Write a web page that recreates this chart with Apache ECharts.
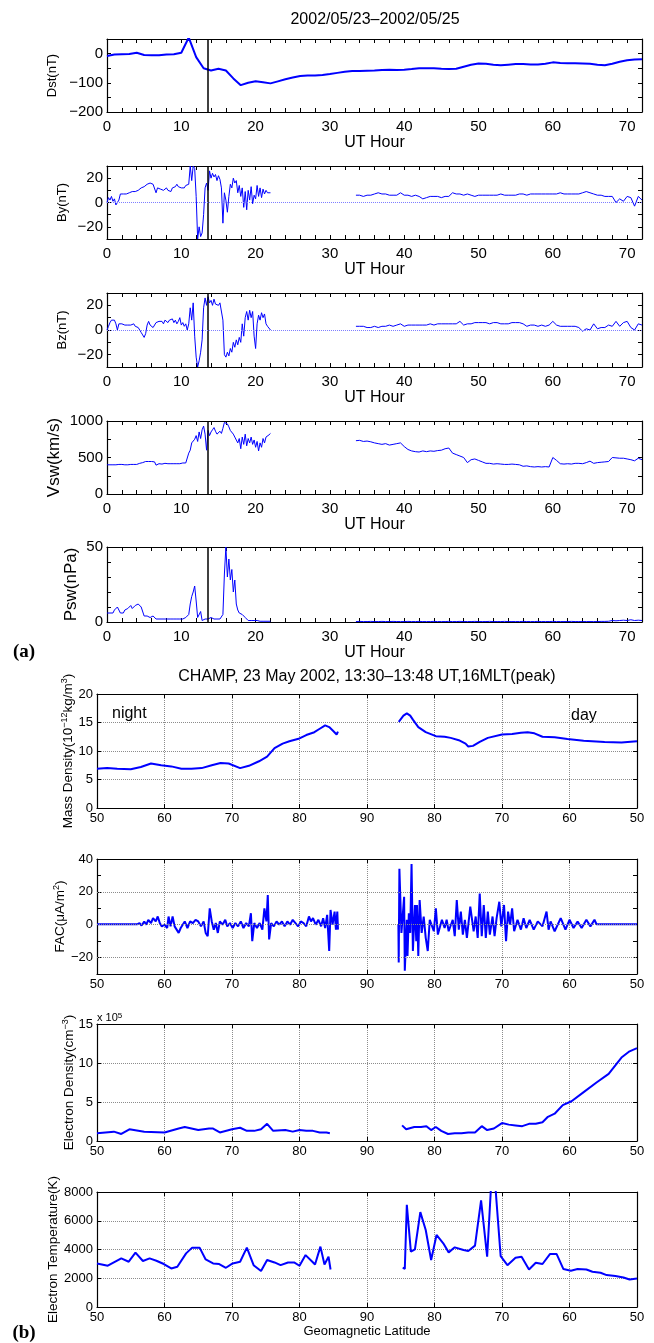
<!DOCTYPE html>
<html>
<head>
<meta charset="utf-8">
<script src="https://cdn.jsdelivr.net/npm/echarts@6/dist/echarts.min.js"></script>
<style>
  html, body { margin: 0; padding: 0; background: #fff; }
  #chart { width: 654px; height: 1343px; }
</style>
</head>
<body>
<div id="chart"></div>
<script>
// ---------- dados (a): vento solar / Dst ----------
const eventHour = 13.6;                 // linha vertical preta
const dstValues = [-8,-3,-2,-1,3,-5,-6,-6,-3,-2,3,55,-12,-50,-58,-52,-58,-85,-108,-100,-95,-98,-102,-95,-88,-82,-77,-75,-75,-73,-70,-66,-62,-60,-60,-59,-58,-56,-55,-56,-55,-53,-50,-50,-50,-52,-53,-52,-45,-38,-34,-35,-38,-40,-38,-36,-36,-37,-37,-35,-30,-32,-33,-33,-34,-35,-38,-40,-35,-28,-23,-20,-19];

// trecho 1: 0-22 h a cada 0.2 h ; trecho 2: 33.5-72 h a cada 0.5 h
const seg1Start = 0, seg1Step = 0.2;
const seg2Start = 33.5, seg2Step = 0.5;

const by1 = [0,4,2,5,1,3,-2,-3,2,7, 6,7,7,7,8,8,8,9,8,9, 9,10,10,12,13,13,14,15,15,16, 16,15,15,8,12,13,11,12,10,11,
  12,10,11,9,12,11,13,15,13,12, 12,13,12,14,13,15,30,18,30,28, 5,-30,-20,-28,-25,-10,12,16,10,26, 20,24,21,23,18,22,19,12,-17,8,
  2,-8,5,15,12,20,16,18,8,14, 5,12,-4,9,-6,10,2,13,-1,6, 3,14,5,12,4,11,7,10,8,9, 8];
const by2 = [6,6,5,6,6,7,8,7,7,6, 6,6,8,6,6,5,6,5,3,4, 5,5,5,4,5,5,8,7,7,6, 7,6,5,6,6,6,6,6,6,7,
  6,6,6,6,7,7,6,7,7,7, 7,7,7,7,7,8,7,7,7,7, 7,8,9,8,7,6,6,5,5,5, 0,3,1,5,4,-3,5,2];

const bz1 = [0,3,6,8,7,8,5,0,5,6, 5,4,4,3,4,3,4,4,5,3, 4,2,0,-2,-4,-6,-3,4,7,4, 3,2,3,6,5,7,6,7,5,8,
  7,6,8,7,9,6,8,5,7,10, 4,6,3,5,0,5,18,8,22,-5, -22,-30,-25,-18,-8,18,26,20,27,22, 24,20,25,21,22,20,22,21,8,-20,
  -22,-18,-21,-15,-18,-10,-14,-8,-12,-6, -10,5,-5,10,15,8,16,10,15,-5, -15,5,12,8,14,10,13,5,3,2, 0];
const bz2 = [3,3,3,2,2,3,2,3,3,4, 3,4,5,3,4,4,4,4,4,4, 5,4,5,5,5,5,5,5,7,4, 5,5,6,6,6,6,5,6,6,5,
  5,5,6,6,6,5,3,4,4,3, 4,3,4,7,4,3,3,3,3,3, 2,-1,1,0,5,1,2,2,4,3, 7,3,6,7,2,0,5,4];

const vsw1 = [400,405,400,402,400,405,400,410,405,400, 405,405,400,405,400,400,405,400,405,410,
  405,415,420,420,430,440,445,450,445,450, 445,450,440,395,420,415,420,410,415,420,
  410,415,420,415,410,415,420,415,420,415, 420,425,420,425,420,560,600,700,680,750,
  800,720,850,760,880,930,820,600,870,800, 850,880,910,860,820,840,860,830,900,980,
  1000,960,920,870,850,820,780,800,700,760, 620,780,680,820,660,760,700,780,680,740,
  640,720,590,700,640,760,700,780,790,810, 830];
const vsw2 = [730,735,720,725,715,700,690,680,690,670, 680,690,700,650,610,590,580,575,590,580,
  590,585,595,600,620,630,560,540,520,500, 430,470,480,460,440,420,420,410,415,410,
  405,405,410,405,400,380,385,375,370,375, 370,375,370,500,460,415,410,415,410,420,
  420,415,430,450,420,430,435,440,445,500, 495,490,490,480,470,455,490,470];

const psw1 = [6,7,6,7,6,8,7,10,8,6, 7,6,8,7,9,10,11,9,10,11, 12,12,11,10,11,4,3,4,3,3, 3,4,3,2,3,2,2,2,2,2,
  2,2,2,2,2,2,2,2,2,2, 2,2,3,3,4,5,12,17,20,24, 14,3,2,7,1,1,2,1,2,2, 3,2,2,2,2,2,2,3,5,32,
  50,30,42,28,35,20,28,12,8,6, 7,5,6,3,4,1,2,1,1,1, 0.5,1,0.5,0.5,0.5,0.5,0.5,0.5,0.5,0.5, 0.5];
const psw2 = [0.3,0.4,0.3,0.3,0.4,0.3,0.3,0.4,0.3,0.3, 0.4,0.3,0.3,0.3,0.4,0.3,0.3,0.4,0.3,0.3,
  0.3,0.4,0.3,0.3,0.3,0.4,0.3,0.3,0.4,0.3, 0.3,0.3,0.4,0.3,0.3,0.3,0.4,0.3,0.3,0.3,
  0.4,0.3,0.3,0.3,0.3,0.4,0.3,0.3,0.3,0.4, 0.3,0.3,0.3,0.4,0.3,0.3,0.3,0.3,0.4,0.3,
  0.3,0.3,0.3,0.3,0.3,0.3,0.4,0.4,0.5,1, 0.8,1,1.2,1,1.5,1,1.2,1];

// ---------- dados (b): CHAMP, [latitude, valor] ----------
const latTickLabels = ['50','60','70','80','90','80','70','60','50'];

const massNight = [[50,6.9],[51.5,7.0],[53,6.9],[55,6.8],[56.5,7.2],[58,7.8],[59.5,7.5],[61,7.3],[62.5,6.9],[64,6.9],
  [65.5,7.0],[67,7.5],[68.3,7.9],[69.5,7.8],[71.2,7.0],[72.5,7.4],[74,8.2],[75.2,9.0],[76.3,10.5],[77.5,11.3],
  [78.5,11.7],[80,12.2],[81,12.8],[82.2,13.3],[83,13.9],[83.8,14.5],[84.4,14.2],[85,13.5],[85.5,12.9],[85.7,13.4]];
const massDay = [[85.3,15.1],[84.6,16.2],[84.1,16.6],[83.6,16.2],[83.2,15.5],[82.4,14.2],[81.3,13.3],[79.8,12.6],
  [78.5,12.5],[77.6,12.3],[76.4,11.9],[75.4,11.3],[75,10.8],[74.3,10.9],[73.3,11.6],[72.1,12.3],[70,12.9],
  [68.5,13.0],[67.2,13.2],[66.2,13.3],[65.2,13.1],[64,12.5],[62.2,12.4],[60.3,12.1],[57.9,11.8],[54.8,11.6],
  [52.3,11.5],[50,11.7]];

const facNight = [[50,0.3],[56,0.3],[56.3,1],[56.6,-0.5],[57,2],[57.3,0],[57.6,3],[58,1],[58.3,4],[58.7,2],[59,5],
  [59.3,1],[59.6,-1],[60,0],[60.4,-2],[60.6,5],[60.9,-1],[61.2,5],[61.5,-1],[61.8,-3],[62.1,-5],[62.4,-2],[62.7,0],
  [63,2],[63.4,-2],[63.8,2],[64.2,1],[64.6,3],[65,2],[65.4,-1],[65.8,2],[66.1,-5],[66.4,-7],[66.7,10],[67,2],
  [67.3,-3],[67.6,1],[67.9,-5],[68.2,2],[68.6,0],[69,3],[69.3,-1],[69.7,1],[70.1,-2],[70.5,1],[70.9,-1],[71.3,2],
  [71.7,-2],[72.1,1],[72.5,-1],[72.8,7],[73.0,-10],[73.3,1],[73.7,-2],[74.1,1],[74.5,-3],[74.8,10],[75.1,2],
  [75.3,18],[75.5,-9],[75.8,1],[76.2,-1],[76.6,2],[77,0],[77.4,2],[77.8,-1],[78.2,2],[78.6,0],[79,3],[79.4,1],
  [79.8,-1],[80.2,2],[80.6,1],[81,-1],[81.4,5],[81.7,2],[82,4],[82.4,0],[82.8,3],[83.2,-1],[83.5,4],[83.8,-2],
  [84.1,6],[84.4,-16],[84.6,9],[84.9,0],[85.2,8],[85.4,-3],[85.6,8],[85.7,-3]];
const facDay = [[85.35,0],[85.3,-23],[85.2,34],[84.9,-5],[84.5,17],[84.4,-28],[84.1,3],[84.0,-19],[83.8,7],[83.6,-5],
  [83.4,37],[83.2,-16],[82.9,12],[82.7,-10],[82.6,12],[82.4,-19],[82.2,15],[81.9,-5],[81.6,5],[81.3,-8],[81.0,-16],
  [80.7,3],[80.1,-4],[79.8,10],[79.5,-6],[78.9,3],[78.5,-2],[78.2,3],[77.9,-4],[77.3,3],[77.0,-7],[76.7,15],
  [76.4,-3],[76.1,8],[75.8,-6],[75.5,3],[75.2,-8],[74.7,11],[74.2,-4],[73.9,5],[73.6,-8],[73.3,19],[73.0,-7],
  [72.7,12],[72.4,-8],[72.1,8],[71.8,-6],[71.4,5],[71.1,-7],[70.8,4],[70.4,14],[70.1,-1],[69.7,12],[69.4,-10],
  [69.1,8],[68.8,0],[68.5,10],[68.2,-4],[67.7,3],[67.2,-3],[66.8,4],[66.4,-2],[65.9,3],[65.3,-3],[64.7,2],
  [64.0,-1],[63.4,8],[63.1,-3],[62.8,2],[62.2,-4],[61.3,4],[60.6,-3],[60.0,3],[59.4,-2],[58.8,2],[58.2,-2],
  [57.5,3],[56.9,-1],[56.3,3],[56.0,0.3],[50,0.3]];
const facGridValues = [-20, 0, 20];

// densidade eletrônica em unidades de 10^5 cm^-3
const neNight = [[50,1.0],[52.5,1.2],[53.6,0.9],[54.8,1.5],[57,1.2],[60,1.1],[62.1,1.6],[63,1.8],[65,1.4],[66.6,1.6],
  [67.2,1.6],[68.2,1.1],[70,1.5],[71.2,1.7],[72.2,1.3],[73.3,1.3],[74.3,1.5],[75.2,2.2],[76.1,1.3],[77.9,1.4],
  [79,1.2],[80,1.4],[81,1.3],[82,1.3],[83,1.1],[84,1.1],[84.5,1.0]];
const neDay = [[84.8,2.0],[84.2,1.5],[83.0,1.8],[82.0,1.8],[81.2,1.9],[80.5,1.4],[79.8,1.8],[79.0,1.3],[78.0,0.9],
  [77.0,1.0],[76.0,1.0],[75.0,1.1],[74.0,1.1],[73.0,1.9],[72.2,1.4],[71.2,1.6],[70.0,2.3],[69.0,2.1],[68.0,2.0],
  [67.0,1.9],[66.0,2.2],[65.0,2.2],[64.0,2.4],[63.2,3.1],[62.2,3.5],[61.0,4.6],[59.7,5.1],[58.0,6.2],[56.0,7.5],
  [54.2,8.6],[52.3,10.7],[51.1,11.5],[50.0,11.9]];

const teNight = [[50,3030],[51.6,2870],[53.6,3380],[54.7,3150],[55.7,3780],[56.8,3200],[57.8,3380],[58.8,3220],
  [59.9,2990],[61,2680],[61.9,2800],[63.2,3730],[64.1,4130],[65.2,4130],[66.1,3310],[67.2,3030],[68.1,2990],
  [69.1,2730],[70.1,3030],[71.2,3150],[72.2,4130],[73.2,2910],[74.3,2500],[75.2,3270],[76.3,3100],[77.2,2910],
  [78.3,3100],[79.2,3100],[80,2870],[80.9,3610],[81.9,3150],[82.3,2960],[83.1,4200],[83.7,2960],[84.3,3500],[84.6,2610]];
const teDay = [[84.7,2750],[84.4,2640],[84.1,7110],[83.5,3850],[82.9,4010],[82.1,6600],[81.3,5360],[80.5,3270],
  [79.7,5010],[78.7,4430],[77.9,3800],[77,4150],[75.7,3960],[75,3890],[74,4270],[73.1,7420],[72.2,3500],[71.6,8600],
  [71,8500],[70.2,3540],[69.2,2910],[68,3430],[67.1,3500],[66,2610],[65,3080],[64,2990],[62.9,3680],[61.9,3680],
  [60.9,2640],[59.8,2520],[58.8,2640],[57.5,2610],[56.6,2450],[55.4,2380],[54.5,2220],[53.2,2150],[52,2050],
  [51.1,1910],[50,1980]];

// ---------- montagem ----------
const FONT = '"Liberation Sans", Arial, Helvetica, sans-serif';
const BLUE = '#0000ff';

function toPairs(start, step, values) {
    return values.map((v, i) => [+(start + i * step).toFixed(2), v]);
}
// lado diurno: latitude -> posição ao longo da passagem (90 no meio)
function dayTrack(points) {
    return points.map(p => [180 - p[0], p[1]]);
}
function num(v) {
    return v < 0 ? '\u2212' + Math.abs(v) : String(v);
}

const grids = [], xAxes = [], yAxes = [], series = [];

function addPanel(p) {
    const gi = grids.length;
    grids.push({ left: p.left, top: p.top, width: p.width, height: p.height, containLabel: false, outerBoundsMode: 'none' });
    const boxLine = { show: true, onZero: false, lineStyle: { color: '#000', width: 1.2 } };
    const tick = { show: true, inside: true, length: 4, lineStyle: { color: '#000', width: 1 } };
    const grid = p.grid ? { show: true, lineStyle: { color: '#8c8c8c', type: 'dotted', width: 1 } } : { show: false };

    xAxes.push({
        type: 'value', gridIndex: gi, position: 'bottom',
        min: p.x.min, max: p.x.max, interval: p.x.interval,
        axisLine: boxLine, axisTick: tick, splitLine: grid,
        axisLabel: { color: '#000', fontFamily: FONT, fontSize: p.tickSize, margin: p.xMargin, formatter: p.x.fmt },
        name: p.xName || '', nameLocation: 'middle', nameGap: p.xNameGap, nameMoveOverlap: false,
        nameTextStyle: { color: '#000', fontFamily: FONT, fontSize: p.xNameSize }
    });
    xAxes.push({
        type: 'value', gridIndex: gi, position: 'top',
        min: p.x.min, max: p.x.max, interval: p.x.interval,
        axisLine: boxLine, axisTick: tick, splitLine: { show: false }, axisLabel: { show: false }
    });
    yAxes.push({
        type: 'value', gridIndex: gi, position: 'left',
        min: p.y.min, max: p.y.max, interval: p.y.interval,
        axisLine: boxLine, axisTick: tick, splitLine: p.y.noGrid ? { show: false } : grid,
        axisLabel: { color: '#000', fontFamily: FONT, fontSize: p.tickSize, margin: 4,
            formatter: v => (Math.round(v) % p.y.labelEvery === 0 ? num(v) : '') },
        name: p.yName, nameLocation: 'middle', nameGap: p.yNameGap, nameMoveOverlap: false,
        nameTextStyle: { color: '#000', fontFamily: FONT, fontSize: p.yNameSize, rich: p.rich }
    });
    yAxes.push({
        type: 'value', gridIndex: gi, position: 'right',
        min: p.y.min, max: p.y.max, interval: p.y.interval,
        axisLine: boxLine, axisTick: tick, splitLine: { show: false }, axisLabel: { show: false }
    });
    return gi;
}

function line(gi, data, width, extra) {
    return Object.assign({
        type: 'line', xAxisIndex: gi * 2, yAxisIndex: gi * 2, data: data,
        showSymbol: false, symbol: 'none', clip: true, animation: false, silent: true,
        lineStyle: { color: BLUE, width: width }
    }, extra || {});
}

function refLines(zero) {
    const d = [{ xAxis: eventHour, lineStyle: { color: '#000', width: 1.5, type: 'solid' } }];
    if (zero) d.push({ yAxis: 0, lineStyle: { color: '#7f7fff', width: 1, type: 'dotted' } });
    return { markLine: { symbol: ['none', 'none'], silent: true, animation: false, label: { show: false }, data: d } };
}

// eixo x (a)
const hourAxis = { min: 0, max: 72, interval: 2, fmt: v => (v % 10 === 0 ? String(v) : '') };
const A = { left: 107, width: 535, tickSize: 15, xMargin: 7, xName: 'UT Hour', xNameGap: 23, xNameSize: 16, grid: false };

const panelsA = [
    { top: 39,  height: 73, name: 'Dst(nT)',   nameSize: 13, gap: 48, y: { min: -200, max: 50, interval: 50, labelEvery: 100 } },
    { top: 166, height: 73, name: 'By(nT)',    nameSize: 13, gap: 38, y: { min: -30, max: 30, interval: 10, labelEvery: 20 } },
    { top: 293, height: 74, name: 'Bz(nT)',    nameSize: 13, gap: 38, y: { min: -30, max: 30, interval: 10, labelEvery: 20 } },
    { top: 421, height: 73, name: 'Vsw(km/s)', nameSize: 17, gap: 44, y: { min: 0, max: 1000, interval: 250, labelEvery: 500 } },
    { top: 547, height: 75, name: 'Psw(nPa)',  nameSize: 17, gap: 27, y: { min: 0, max: 50, interval: 10, labelEvery: 50 } }
];
const gA = panelsA.map(p => addPanel(Object.assign({}, A, {
    top: p.top, height: p.height, x: hourAxis, y: p.y, yName: p.name, yNameSize: p.nameSize, yNameGap: p.gap
})));

series.push(line(gA[0], dstValues.map((v, i) => [i, v]), 2, refLines(false)));
series.push(line(gA[1], toPairs(seg1Start, seg1Step, by1), 1, refLines(true)));
series.push(line(gA[1], toPairs(seg2Start, seg2Step, by2), 1));
series.push(line(gA[2], toPairs(seg1Start, seg1Step, bz1), 1, refLines(true)));
series.push(line(gA[2], toPairs(seg2Start, seg2Step, bz2), 1));
series.push(line(gA[3], toPairs(seg1Start, seg1Step, vsw1), 1, refLines(false)));
series.push(line(gA[3], toPairs(seg2Start, seg2Step, vsw2), 1));
series.push(line(gA[4], toPairs(seg1Start, seg1Step, psw1), 1, refLines(false)));
series.push(line(gA[4], toPairs(seg2Start, seg2Step, psw2), 1));

// eixo x (b)
const latAxis = { min: 50, max: 130, interval: 10, fmt: v => latTickLabels[Math.round((v - 50) / 10)] };
const B = { left: 97, width: 540, tickSize: 13, xMargin: 4, xNameGap: 18, xNameSize: 13, grid: true, yNameSize: 13.5 };
const sup = {
    a: { fontFamily: FONT, fontSize: 13.5, color: '#000', lineHeight: 16 },
    b: { fontFamily: FONT, fontSize: 9, color: '#000', lineHeight: 16, verticalAlign: 'top', padding: [0, 0, 6, 0] }
};

const panelsB = [
    { top: 694,  height: 114, name: '{a|Mass Density(10}{b|\u221212}{a|kg/m}{b|3}{a|)}', gap: 21, y: { min: 0, max: 20, interval: 5, labelEvery: 5 } },
    { top: 859,  height: 115, name: '{a|FAC(\u03bcA/m}{b|2}{a|)}', gap: 29, y: { min: -30, max: 40, interval: 10, labelEvery: 20, noGrid: true } },
    { top: 1024, height: 117, name: '{a|Electron Density(cm}{b|\u22123}{a|)}', gap: 20, y: { min: 0, max: 15, interval: 5, labelEvery: 5 } },
    { top: 1192, height: 115, name: '{a|Electron Temperature(K)}', gap: 36, y: { min: 0, max: 8000, interval: 2000, labelEvery: 2000 } }
];
const gB = panelsB.map((p, i) => addPanel(Object.assign({}, B, {
    top: p.top, height: p.height, x: latAxis, y: p.y, yName: p.name, yNameGap: p.gap, rich: sup,
    xName: i === panelsB.length - 1 ? 'Geomagnetic Latitude' : ''
})));

series.push(line(gB[0], massNight, 2));
series.push(line(gB[0], dayTrack(massDay), 2));
series.push(line(gB[1], facNight, 2, {
    markLine: {
        symbol: ['none', 'none'], silent: true, animation: false, label: { show: false },
        lineStyle: { color: '#8c8c8c', type: 'dotted', width: 1 },
        data: facGridValues.map(v => ({ yAxis: v }))
    }
}));
series.push(line(gB[1], dayTrack(facDay), 2));
series.push(line(gB[2], neNight, 2));
series.push(line(gB[2], dayTrack(neDay), 2));
series.push(line(gB[3], teNight, 2));
series.push(line(gB[3], dayTrack(teDay), 2));

const txt = (x, y, text, size, extra) => ({
    type: 'text', x: x, y: y, silent: true,
    style: Object.assign({ text: text, fontFamily: FONT, fontSize: size, fill: '#000', align: 'center', verticalAlign: 'middle' }, extra || {})
});

const option = {
    animation: false,
    backgroundColor: '#fff',
    grid: grids,
    xAxis: xAxes,
    yAxis: yAxes,
    series: series,
    graphic: [
        txt(375, 20, '2002/05/23\u20132002/05/25', 16),
        txt(367, 677, 'CHAMP, 23 May 2002, 13:30\u201313:48 UT,16MLT(peak)', 16),
        txt(24, 652, '(a)', 19, { fontFamily: '"Liberation Serif", "Times New Roman", serif', fontWeight: 'bold' }),
        txt(24, 1333, '(b)', 19, { fontFamily: '"Liberation Serif", "Times New Roman", serif', fontWeight: 'bold' }),
        txt(112, 714, 'night', 16, { align: 'left' }),
        txt(571, 716, 'day', 16, { align: 'left' }),
        {
            type: 'text', x: 97, y: 1018, silent: true,
            style: {
                text: '{a|x 10}{b|5}', verticalAlign: 'middle',
                rich: {
                    a: { fontFamily: FONT, fontSize: 11, fill: '#000', lineHeight: 12 },
                    b: { fontFamily: FONT, fontSize: 8, fill: '#000', lineHeight: 12, verticalAlign: 'top', padding: [0, 0, 5, 0] }
                }
            }
        }
    ]
};

const chart = echarts.init(document.getElementById('chart'));
chart.setOption(option);
window.addEventListener('resize', function () { chart.resize(); });
</script>
</body>
</html>
